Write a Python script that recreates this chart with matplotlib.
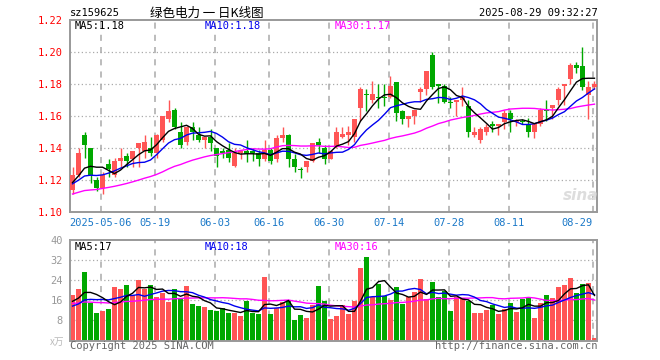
import numpy as np
import pandas as pd
import matplotlib
matplotlib.use("Agg")
import matplotlib.pyplot as plt

plt.rcParams['font.family'] = ['DejaVu Sans Mono', 'Noto Sans CJK SC']

code = 'sz159625'
title = '绿色电力 一 日K线图'
stamp = '2025-08-29 09:32:27'

date_labels = ['2025-05-06', '05-19', '06-03', '06-16', '06-30',
               '07-14', '07-28', '08-11', '08-29']
date_pos = [5, 14, 24, 33, 43, 53, 63, 73, 87]

# daily candles
opens = [1.114, 1.123, 1.148, 1.140, 1.120, 1.115, 1.130, 1.123, 1.132, 1.135,
         1.133, 1.140, 1.138, 1.140, 1.137, 1.145, 1.158, 1.164, 1.150, 1.144,
         1.153, 1.148, 1.145, 1.147, 1.140, 1.138, 1.139, 1.129, 1.137, 1.138,
         1.138, 1.137, 1.133, 1.139, 1.133, 1.146, 1.148, 1.133, 1.127, 1.128,
         1.132, 1.144, 1.140, 1.133, 1.141, 1.147, 1.148, 1.147, 1.165, 1.174,
         1.170, 1.172, 1.172, 1.172, 1.181, 1.163, 1.158, 1.160, 1.175, 1.177,
         1.198, 1.180, 1.179, 1.169, 1.169, 1.170, 1.166, 1.148, 1.145, 1.150,
         1.155, 1.154, 1.156, 1.162, 1.156, 1.157, 1.155, 1.150, 1.155, 1.164,
         1.165, 1.170, 1.179, 1.183, 1.192, 1.191, 1.173, 1.178]
highs = [1.128, 1.140, 1.150, 1.140, 1.122, 1.125, 1.133, 1.134, 1.140, 1.137,
         1.138, 1.143, 1.148, 1.147, 1.149, 1.160, 1.170, 1.165, 1.156, 1.154,
         1.156, 1.153, 1.147, 1.152, 1.140, 1.140, 1.143, 1.140, 1.139, 1.145,
         1.140, 1.139, 1.145, 1.140, 1.148, 1.153, 1.149, 1.136, 1.128, 1.132,
         1.143, 1.146, 1.142, 1.139, 1.153, 1.153, 1.154, 1.158, 1.178, 1.177,
         1.182, 1.180, 1.180, 1.185, 1.181, 1.164, 1.160, 1.164, 1.178, 1.188,
         1.200, 1.180, 1.180, 1.172, 1.170, 1.178, 1.170, 1.153, 1.153, 1.155,
         1.157, 1.155, 1.164, 1.164, 1.158, 1.158, 1.159, 1.155, 1.165, 1.170,
         1.167, 1.178, 1.180, 1.193, 1.194, 1.203, 1.182, 1.182]
lows = [1.111, 1.122, 1.134, 1.118, 1.113, 1.111, 1.122, 1.122, 1.128, 1.128,
        1.128, 1.128, 1.134, 1.135, 1.134, 1.144, 1.156, 1.152, 1.140, 1.142,
        1.145, 1.144, 1.140, 1.138, 1.128, 1.134, 1.131, 1.128, 1.133, 1.131,
        1.132, 1.129, 1.132, 1.130, 1.131, 1.144, 1.128, 1.125, 1.121, 1.125,
        1.131, 1.137, 1.130, 1.133, 1.140, 1.146, 1.142, 1.144, 1.157, 1.163,
        1.168, 1.165, 1.166, 1.171, 1.157, 1.155, 1.153, 1.155, 1.169, 1.173,
        1.177, 1.168, 1.168, 1.165, 1.160, 1.166, 1.147, 1.147, 1.143, 1.148,
        1.150, 1.148, 1.152, 1.150, 1.154, 1.155, 1.147, 1.146, 1.154, 1.157,
        1.158, 1.167, 1.167, 1.180, 1.187, 1.176, 1.158, 1.177]
closes = [1.123, 1.137, 1.142, 1.123, 1.115, 1.123, 1.127, 1.132, 1.134, 1.132,
          1.138, 1.143, 1.144, 1.137, 1.148, 1.160, 1.163, 1.153, 1.142, 1.153,
          1.150, 1.145, 1.147, 1.143, 1.135, 1.137, 1.134, 1.137, 1.138, 1.136,
          1.137, 1.133, 1.139, 1.132, 1.146, 1.148, 1.133, 1.128, 1.126, 1.132,
          1.143, 1.142, 1.133, 1.138, 1.150, 1.149, 1.150, 1.158, 1.177, 1.173,
          1.174, 1.171, 1.171, 1.179, 1.162, 1.158, 1.160, 1.164, 1.177, 1.188,
          1.178, 1.179, 1.169, 1.168, 1.170, 1.172, 1.150, 1.150, 1.152, 1.153,
          1.154, 1.155, 1.162, 1.158, 1.157, 1.156, 1.150, 1.155, 1.164, 1.163,
          1.167, 1.177, 1.180, 1.192, 1.190, 1.178, 1.178, 1.180]
# volume in 万
volumes = [18.0, 20.4, 27.2, 15.1, 10.9, 11.7, 12.4, 21.2, 20.4, 22.0,
           18.0, 24.0, 20.4, 22.0, 17.2, 18.8, 15.2, 20.4, 16.4, 21.6,
           14.4, 13.6, 13.2, 12.0, 11.6, 12.8, 10.8, 10.9, 9.6, 15.6,
           10.8, 10.4, 25.2, 10.4, 12.8, 15.2, 16.0, 8.0, 10.0, 8.8,
           14.0, 21.6, 15.6, 8.4, 9.6, 14.0, 10.4, 15.6, 28.8, 33.2,
           17.2, 22.4, 17.6, 16.0, 21.2, 14.4, 17.2, 19.2, 24.4, 16.4,
           23.2, 17.2, 19.6, 11.6, 17.2, 16.8, 15.6, 10.8, 10.8, 12.0,
           14.0, 10.4, 12.4, 14.8, 11.2, 16.4, 17.2, 8.8, 14.8, 18.0,
           16.8, 21.2, 22.0, 24.8, 18.8, 22.4, 22.8, 0.8]

# days before the window (not drawn), estimated so the MA lines start where they do
prev_close = [1.104, 1.110, 1.112, 1.106, 1.103, 1.108, 1.111, 1.109, 1.105, 1.107,
              1.110, 1.108, 1.106, 1.109, 1.112, 1.107, 1.105, 1.108, 1.110, 1.111,
              1.114, 1.116, 1.118, 1.117, 1.119, 1.116, 1.118, 1.117, 1.118]
prev_vol = [16, 14, 18, 15, 13, 17, 16, 14, 15, 16, 18, 14, 13, 15, 17,
            16, 14, 15, 16, 14, 12, 11, 13, 12, 11, 14, 16, 15, 15]

price_ticks = [1.10, 1.12, 1.14, 1.16, 1.18, 1.20, 1.22]
vol_ticks = [8, 16, 24, 32, 40]

RED = '#ff5555'
GREEN = '#00a800'
GRID = '#aaaaaa'

n = len(closes)
x = np.arange(n)
o = np.array(opens)
c = np.array(closes)
up = c >= o
colors = [RED if u else GREEN for u in up]

cs = pd.Series(prev_close + closes)
vs = pd.Series(prev_vol + volumes)
k = len(prev_close)
ma = {w: cs.rolling(w).mean().values[k:] for w in (5, 10, 30)}
vma = {w: vs.rolling(w).mean().values[k:] for w in (5, 10, 30)}
ma_colors = {5: 'black', 10: '#0000ee', 30: '#ff00ff'}

W, H = 660, 360
fig = plt.figure(figsize=(6.6, 3.6), dpi=100)
ax1 = fig.add_axes([70 / W, 1 - 212 / H, 527 / W, 192 / H])
ax2 = fig.add_axes([70 / W, 1 - 340.5 / H, 527 / W, 100.5 / H])

grid_x = [p - 0.3 for p in date_pos]
for ax in (ax1, ax2):
    ax.set_xlim(-0.42, n - 0.58)
    for s in ax.spines.values():
        s.set_color('#999999')
        s.set_linewidth(1.4)
    for gx in grid_x:
        ax.axvline(gx, color=GRID, lw=1.1, ls=(0, (4, 4)), zorder=0)

# price panel
ax1.set_ylim(1.10, 1.22)
for t in price_ticks[1:-1]:
    ax1.axhline(t, color=GRID, lw=0.9, ls=(0, (1, 2)), zorder=0)
ax1.vlines(x, lows, highs, color=colors, lw=1, zorder=2)
body = np.maximum(np.abs(c - o), 0.0007)
ax1.bar(x, body, bottom=np.minimum(o, c), width=0.75, color=colors, zorder=3)
for w in (30, 10, 5):
    ax1.plot(x, ma[w], color=ma_colors[w], lw=1, zorder=4)
ax1.set_yticks(price_ticks)
ax1.set_yticklabels(['%.2f' % t for t in price_ticks])
ax1.tick_params(axis='y', length=0, pad=5, labelcolor='red', labelsize=7.5)
ax1.set_xticks(grid_x)
ax1.set_xticklabels(date_labels)
ax1.tick_params(axis='x', length=0, pad=4, labelcolor='#1a78c8', labelsize=7.5)
ax1.get_xticklabels()[-1].set_ha('right')

# volume panel
ax2.set_ylim(0, 40)
for t in vol_ticks[:-1]:
    ax2.axhline(t, color=GRID, lw=0.9, ls=(0, (1, 2)), zorder=0)
ax2.bar(x, volumes, width=0.8, color=colors, zorder=2)
for w in (30, 10, 5):
    ax2.plot(x, vma[w], color=ma_colors[w], lw=1, zorder=4)
ax2.set_yticks(vol_ticks)
ax2.tick_params(axis='y', length=0, pad=5, labelcolor='#999999', labelsize=7.5)
ax2.set_xticks([])

# texts
fig.text(70 / W, 1 - 13 / H, code, fontsize=7.5, va='center', ha='left')
fig.text(150 / W, 1 - 13 / H, title, fontsize=9, va='center', ha='left',
         family=['Noto Sans CJK SC', 'DejaVu Sans'])
fig.text(598 / W, 1 - 13 / H, stamp, fontsize=7.5, va='center', ha='right')

fig.text(75 / W, 1 - 26 / H, 'MA5:1.18', fontsize=7.5, va='center', color='black')
fig.text(205 / W, 1 - 26 / H, 'MA10:1.18', fontsize=7.5, va='center', color='#0000ee')
fig.text(335 / W, 1 - 26 / H, 'MA30:1.17', fontsize=7.5, va='center', color='#ff00ff')
fig.text(75 / W, 1 - 247 / H, 'MA5:17', fontsize=7.5, va='center', color='black')
fig.text(205 / W, 1 - 247 / H, 'MA10:18', fontsize=7.5, va='center', color='#0000ee')
fig.text(335 / W, 1 - 247 / H, 'MA30:16', fontsize=7.5, va='center', color='#ff00ff')

fig.text(581 / W, 1 - 196 / H, 'sina', fontsize=11, style='italic', weight='bold',
         color='#dddddd', va='center', ha='center', family='DejaVu Sans')
fig.text(64 / W, 1 - 342 / H, 'x万', fontsize=7, color='#bbbbbb', va='center', ha='right',
         family=['Noto Sans CJK SC', 'DejaVu Sans'])
fig.text(70 / W, 1 - 346 / H, 'Copyright 2025 SINA.COM', fontsize=7.5, color='#666666',
         va='center', ha='left')
fig.text(598 / W, 1 - 346 / H, 'http://finance.sina.com.cn', fontsize=7.5, color='#666666',
         va='center', ha='right')

fig.savefig('out.png', dpi=100, facecolor='white')
